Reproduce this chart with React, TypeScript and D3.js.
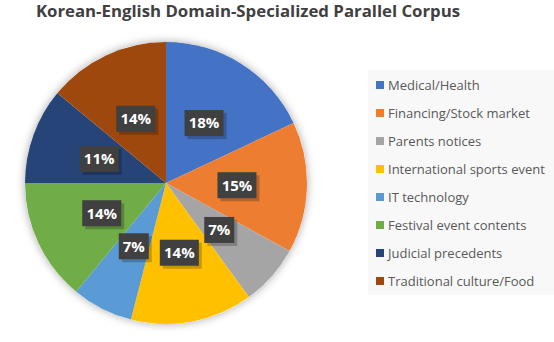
import React, { useEffect, useRef } from "react";
import * as d3 from "d3";

const categories = [
  "Medical/Health",
  "Financing/Stock market",
  "Parents notices",
  "International sports event",
  "IT technology",
  "Festival event contents",
  "Judicial precedents",
  "Traditional culture/Food",
];
const shares = [18, 15, 7, 14, 7, 14, 11, 14];
const colors = ["#4472C4", "#ED7D31", "#A5A5A5", "#FFC000", "#5B9BD5", "#70AD47", "#264478", "#9E480E"];
const title = "Korean-English Domain-Specialized Parallel Corpus";

const W = 554;
const H = 342;

const App = () => {
  const ref = useRef(null);

  useEffect(() => {
    const svg = d3.select(ref.current);
    svg.selectAll("*").remove();
    svg.attr("width", W).attr("height", H).style("background", "#fff");

    const defs = svg.append("defs");
    const glow = defs.append("filter").attr("id", "glow").attr("x", "-20%").attr("y", "-20%").attr("width", "140%").attr("height", "140%");
    glow.append("feGaussianBlur").attr("in", "SourceAlpha").attr("stdDeviation", 5).attr("result", "b");
    glow.append("feComponentTransfer").attr("in", "b").attr("result", "c")
      .append("feFuncA").attr("type", "linear").attr("slope", 0.35);
    const m = glow.append("feMerge");
    m.append("feMergeNode").attr("in", "c");
    m.append("feMergeNode").attr("in", "SourceGraphic");

    const font = "'Open Sans', 'Liberation Sans', sans-serif";

    svg.append("text")
      .attr("x", 248).attr("y", 17)
      .attr("text-anchor", "middle")
      .attr("font-family", font)
      .attr("font-weight", "bold")
      .attr("font-size", 16.8)
      .attr("fill", "#404040")
      .text(title);

    const cx = 166, cy = 183, r = 141;
    const pie = d3.pie<number>().sort(null).value((d) => d);
    const arcs = pie(shares);
    const arc = d3.arc<d3.PieArcDatum<number>>().innerRadius(0).outerRadius(r);
    const labelArc = d3.arc<d3.PieArcDatum<number>>().innerRadius(71).outerRadius(71);

    const g = svg.append("g").attr("transform", `translate(${cx},${cy})`);
    g.append("circle").attr("r", r).attr("fill", "#fff").attr("filter", "url(#glow)");
    g.selectAll("path.slice")
      .data(arcs)
      .join("path")
      .attr("class", "slice")
      .attr("d", arc)
      .attr("fill", (d, i) => colors[i]);

    const lab = g.selectAll("g.lab").data(arcs).join("g")
      .attr("class", "lab")
      .attr("transform", (d) => `translate(${labelArc.centroid(d)})`);
    lab.each(function (d) {
      const el = d3.select(this);
      const txt = d.data + "%";
      const w = txt.length * 9 + 12;
      const h = 26;
      el.append("rect").attr("x", -w / 2 + 3).attr("y", -h / 2 + 3).attr("width", w).attr("height", h)
        .attr("fill", "#000").attr("opacity", 0.22);
      el.append("rect").attr("x", -w / 2).attr("y", -h / 2).attr("width", w).attr("height", h)
        .attr("fill", "#404040");
      el.append("text").attr("text-anchor", "middle").attr("dy", "0.36em")
        .attr("font-family", font).attr("font-weight", "bold").attr("font-size", 15)
        .attr("fill", "#fff").text(txt);
    });

    // legend
    const lx = 368, ly = 70;
    svg.append("rect").attr("x", lx).attr("y", ly).attr("width", W - lx).attr("height", 225).attr("fill", "#f8f8f8");
    const leg = svg.selectAll("g.leg").data(categories).join("g")
      .attr("class", "leg")
      .attr("transform", (d, i) => `translate(376,${85 + i * 28})`);
    leg.append("rect").attr("x", 0).attr("y", -4).attr("width", 8).attr("height", 8)
      .attr("fill", (d, i) => colors[i]);
    leg.append("text").attr("x", 12).attr("dy", "0.35em")
      .attr("font-family", font).attr("font-size", 13).attr("fill", "#595959")
      .text((d) => d);
  }, []);

  return <svg ref={ref} style={{ position: "absolute", left: 0, top: 0 }}></svg>;
};

export default App;
